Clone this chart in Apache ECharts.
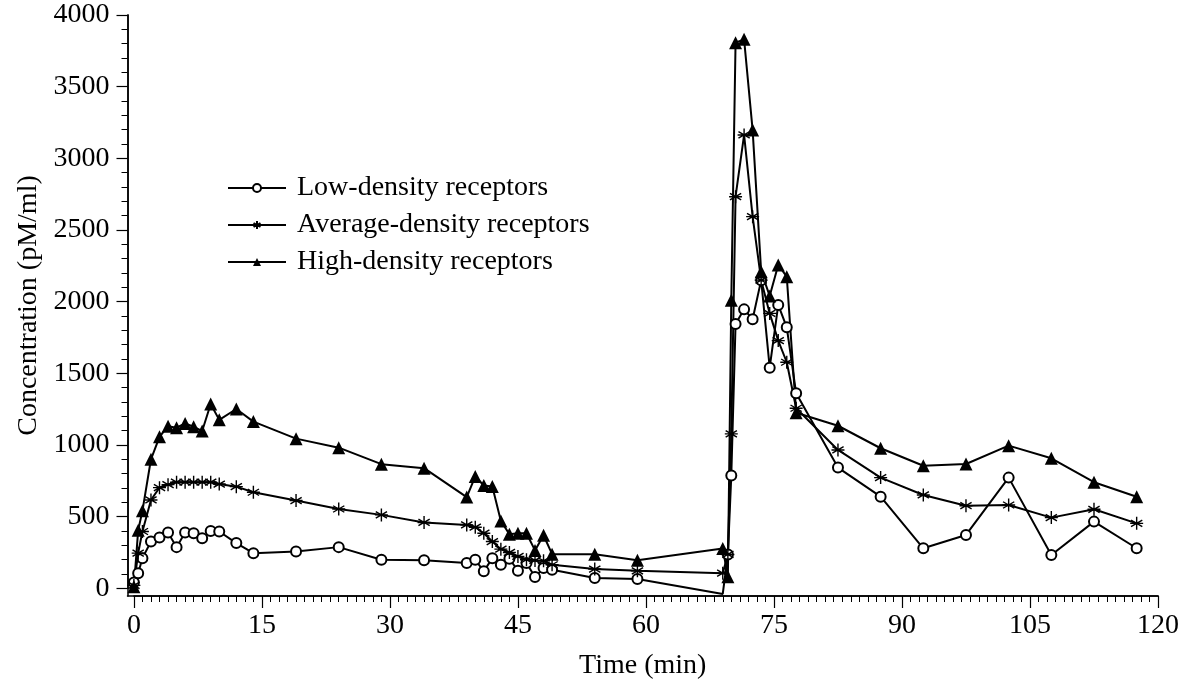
<!DOCTYPE html>
<html>
<head>
<meta charset="utf-8">
<script src="https://cdn.jsdelivr.net/npm/echarts@6/dist/echarts.min.js"></script>
<style>
html,body{margin:0;padding:0;background:#fff;}
#chart{width:1186px;height:692px;}
</style>
</head>
<body>
<div id="chart"></div>
<script>
// ---- data ----
const times = [0, 0.5, 1, 2, 3, 4, 5, 6, 7, 8, 9, 10, 12, 14, 19, 24, 29, 34, 39, 40, 41, 42, 43, 44, 45, 46, 47, 48, 49, 54, 59, 69, 69.6, 70, 70.5, 71.5, 72.5, 73.5, 74.5, 75.5, 76.5, 77.6, 82.5, 87.5, 92.5, 97.5, 102.5, 107.5, 112.5, 117.5];
const lowDensity = [40, 105, 210, 326, 354, 389, 287, 389, 384, 349, 400, 396, 315, 245, 257, 287, 199, 196, 176, 199, 118, 210, 164, 206, 122, 176, 78, 141, 129, 71, 64, -40, 236, 786, 1844, 1946, 1877, 2150, 1539, 1977, 1821, 1360, 842, 639, 279, 372, 772, 232, 465, 279];
const averageDensity = [20, 245, 396, 616, 702, 723, 740, 740, 740, 740, 740, 727, 709, 670, 612, 553, 512, 459, 442, 426, 384, 326, 273, 250, 222, 199, 194, 192, 164, 134, 122, 105, 236, 1077, 2732, 3163, 2593, 2150, 1918, 1728, 1577, 1256, 965, 772, 651, 576, 581, 493, 551, 453];
const highDensity = [10, 405, 540, 900, 1057, 1131, 1120, 1150, 1127, 1097, 1286, 1175, 1251, 1163, 1044, 981, 866, 838, 636, 780, 717, 710, 470, 377, 384, 384, 264, 370, 238, 238, 196, 277, 81, 2010, 3807, 3830, 3197, 2209, 2040, 2256, 2174, 1225, 1134, 977, 855, 867, 995, 907, 740, 639];
const seriesNames = ['Low-density receptors', 'Average-density receptors', 'High-density receptors'];
const xTickLabels = [0, 15, 30, 45, 60, 75, 90, 105, 120];
const yTickLabels = [0, 500, 1000, 1500, 2000, 2500, 3000, 3500, 4000];
const xMinorStep = 1;
const yMinorStep = 100;

const FONT = 'Liberation Serif';
const FS = 28;

const xMinor = [];
for (let v = 0; v <= 120; v += xMinorStep) xMinor.push(v);
const yMinor = [];
for (let v = 0; v <= 4000; v += yMinorStep) yMinor.push(v);

// points below zero are clipped away in the reference: draw the line, hide the marker
function pairs(ys) {
  return times.map((t, i) => ys[i] < 0 ? {value: [t, ys[i]], symbol: 'none'} : [t, ys[i]]);
}

const asterisk = 'path://M0,-10L0,10M-8.66,-5L8.66,5M-8.66,5L8.66,-5M-10,0L10,0';

const chart = echarts.init(document.getElementById('chart'), null, {renderer: 'canvas'});
const axisLineStyle = {color: '#000', width: 1.5};
const xMin = -0.75, xMax = 120, yMin = -54, yMax = 4000;
const plain = v => String(v);

chart.setOption({
  animation: false,
  backgroundColor: '#fff',
  grid: [
    {left: 127.5, right: 28, top: 15, bottom: 96, containLabel: false},
    // same plotting rectangle, trimmed to the [0,120]x[0,4000] range, used for the long major ticks
    {left: 133.9, right: 28, top: 15, bottom: 103.7, containLabel: false}
  ],
  legend: {
    orient: 'vertical', left: 222, top: 168,
    itemWidth: 58, itemHeight: 10, itemGap: 7,
    textStyle: {fontFamily: FONT, fontSize: FS, color: '#000', lineHeight: 30, padding: [0, 0, 0, 6]},
    data: seriesNames
  },
  xAxis: [{
    gridIndex: 0, type: 'value', min: xMin, max: xMax, position: 'bottom',
    axisLine: {show: true, onZero: false, lineStyle: axisLineStyle},
    axisTick: {show: true, customValues: xMinor, length: 6, lineStyle: {color: '#000', width: 1}},
    axisLabel: {customValues: xTickLabels, formatter: plain, fontFamily: FONT, fontSize: FS, color: '#000', margin: 16},
    splitLine: {show: false},
    name: 'Time (min)', nameLocation: 'middle', nameGap: 56,
    nameTextStyle: {fontFamily: FONT, fontSize: FS, color: '#000'}
  }, {
    gridIndex: 1, type: 'value', min: 0, max: 120, interval: 15, position: 'bottom', offset: 7.7,
    axisLine: {show: true, onZero: false, lineStyle: axisLineStyle},
    axisTick: {show: true, length: 12, lineStyle: {color: '#000', width: 1.2}},
    axisLabel: {show: false},
    splitLine: {show: false}
  }],
  yAxis: [{
    gridIndex: 0, type: 'value', min: yMin, max: yMax, position: 'left',
    axisLine: {show: true, onZero: false, lineStyle: axisLineStyle},
    axisTick: {show: true, customValues: yMinor, length: 6, lineStyle: {color: '#000', width: 1}},
    axisLabel: {customValues: yTickLabels, formatter: plain, fontFamily: FONT, fontSize: FS, color: '#000', margin: 18},
    splitLine: {show: false},
    name: 'Concentration (pM/ml)', nameLocation: 'middle', nameGap: 83, nameRotate: 90,
    nameTextStyle: {fontFamily: FONT, fontSize: FS, color: '#000'}
  }, {
    gridIndex: 1, type: 'value', min: 0, max: 4000, interval: 500, position: 'left', offset: 6.4,
    axisLine: {show: true, onZero: false, lineStyle: axisLineStyle},
    axisTick: {show: true, length: 11, lineStyle: {color: '#000', width: 1.2}},
    axisLabel: {show: false},
    splitLine: {show: false}
  }],
  series: [{
    name: seriesNames[0], type: 'line', data: pairs(lowDensity), clip: true,
    symbol: 'emptyCircle', symbolSize: 10, showAllSymbol: true,
    lineStyle: {color: '#000', width: 2},
    itemStyle: {color: '#000', borderWidth: 1.2}
  }, {
    name: seriesNames[1], type: 'line', data: pairs(averageDensity), clip: true,
    symbol: asterisk, symbolSize: 13, showAllSymbol: true,
    lineStyle: {color: '#000', width: 2},
    itemStyle: {color: '#000', borderColor: '#000', borderWidth: 1.4}
  }, {
    name: seriesNames[2], type: 'line', data: pairs(highDensity), clip: true,
    symbol: 'triangle', symbolSize: 13, showAllSymbol: true,
    lineStyle: {color: '#000', width: 2},
    itemStyle: {color: '#000', borderWidth: 0}
  }, {
    // invisible copy bound to the second pair of axes so that they are not blank
    name: 'tick-axes', type: 'line', xAxisIndex: 1, yAxisIndex: 1,
    data: pairs(highDensity), symbol: 'none', silent: true,
    lineStyle: {opacity: 0, width: 0}, tooltip: {show: false}
  }]
});
</script>
</body>
</html>
